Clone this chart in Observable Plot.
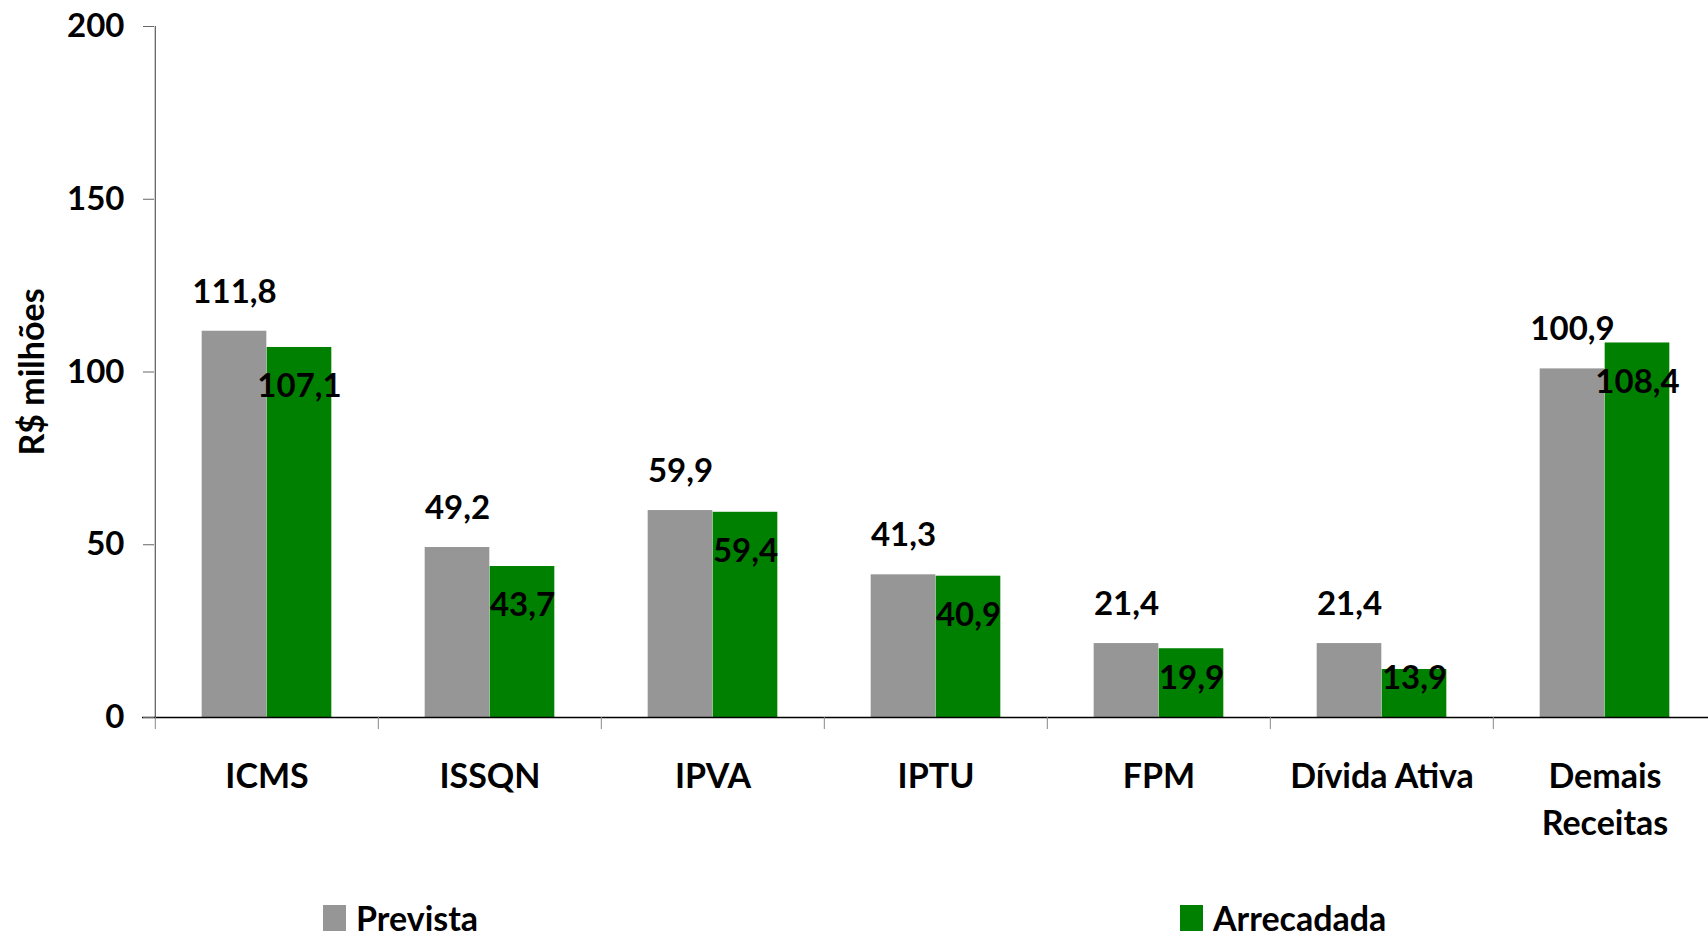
<!DOCTYPE html>
<html>
<head>
<meta charset="utf-8">
<script src="https://cdn.jsdelivr.net/npm/d3@7"></script>
<script src="https://cdn.jsdelivr.net/npm/@observablehq/plot@0.6"></script>
<style>
  html, body { margin: 0; padding: 0; background: #fff; overflow: hidden; }
  #wrap { position: relative; width: 1708px; height: 938px; font-family: Lato, "Open Sans", sans-serif; }
  #legend { position: absolute; left: 0; top: 895px; width: 1708px; height: 43px; }
  .item { position: absolute; top: 6px; display: flex; align-items: center; height: 34px; line-height: 34px; font-size: 34px; font-weight: bold; color: #000; }
  .sw { display: inline-block; width: 23px; height: 26px; margin-right: 10px; }
</style>
</head>
<body>
<div id="wrap">
  <div id="chart"></div>
  <div id="legend"></div>
</div>
<script>
// ---- data ----
const categories = ["ICMS", "ISSQN", "IPVA", "IPTU", "FPM", "Dívida Ativa", "Demais Receitas"];
const prevista   = [111.8, 49.2, 59.9, 41.3, 21.4, 21.4, 100.9];
const arrecadada = [107.1, 43.7, 59.4, 40.9, 19.9, 13.9, 108.4];
const seriesNames = ["Prevista", "Arrecadada"];
const seriesColors = ["#969696", "#008000"];
const yTicks = [0, 50, 100, 150, 200];

const table = categories.map((c, i) => ({cat: c, prev: prevista[i], arr: arrecadada[i]}));

// ---- layout ----
const W = 1708, H = 895;
const mL = 154, mR = -9.5, mT = 26, mB = 178;
const band = (W - mL - mR) / categories.length;
const barW = 65;
const outer = (band - 2 * barW) / 2;
const FS = 33;
const labelGap = 39;
const pxPerUnit = (H - mT - mB) / 200;
const fmt = v => v.toFixed(1).replace(".", ",");
// inside labels of short bars sit at a minimum height above the baseline
const isShort = d => d.arr * pxPerUnit < 2 * labelGap;

const chart = Plot.plot({
  width: W,
  height: H,
  marginLeft: mL,
  marginRight: mR,
  marginTop: mT,
  marginBottom: mB,
  style: {fontFamily: "Lato, 'Open Sans', sans-serif", background: "#fff", overflow: "visible"},
  x: {domain: categories, padding: 0},
  y: {domain: [0, 200]},
  marks: [
    Plot.barY(table, {x: "cat", y: "prev", fill: seriesColors[0], insetLeft: outer, insetRight: outer + barW}),
    Plot.barY(table, {x: "cat", y: "arr", fill: seriesColors[1], insetLeft: outer + barW, insetRight: outer}),
    // y axis line
    Plot.ruleX([categories[0]], {dx: -band / 2, y1: 0, y2: 200, stroke: "#666", strokeWidth: 1.3}),
    // x axis line
    Plot.ruleY([0], {stroke: "#000", strokeWidth: 1.5, insetLeft: -12}),
    Plot.axisY({ticks: yTicks, tickSize: 11, tickPadding: 19, stroke: "#666", fontSize: FS, fontWeight: "bold", fill: "#000", label: null, tickFormat: d => String(d)}),
    // x ticks at band boundaries
    Plot.axisX({tickSize: 12, text: null, dx: -band / 2, stroke: "#888", label: null}),
    // category labels
    Plot.axisX({tickSize: 0, tickPadding: 38, fontSize: 34, fontWeight: "bold", fill: "#000", label: null, lineHeight: 1.36,
      tickFormat: d => d === "Demais Receitas" ? "Demais\nReceitas" : d}),
    // y title
    Plot.text(["R$ milhões"], {frameAnchor: "left", textAnchor: "middle", dx: -121, rotate: -90, fontSize: 34, fontWeight: "bold", fill: "#000"}),
    // value labels
    Plot.text(table, {x: "cat", y: "prev", text: d => fmt(d.prev), dx: -(barW / 2), dy: -labelGap, fontSize: FS, fontWeight: "bold", fill: "#000"}),
    Plot.text(table.filter(d => !isShort(d)), {x: "cat", y: "arr", text: d => fmt(d.arr), dx: barW / 2, dy: labelGap, fontSize: FS, fontWeight: "bold", fill: "#000"}),
    Plot.text(table.filter(isShort), {x: "cat", y: () => 0, text: d => fmt(d.arr), dx: barW / 2, dy: -labelGap, fontSize: FS, fontWeight: "bold", fill: "#000"})
  ]
});
document.getElementById("chart").appendChild(chart);

// ---- legend ----
const legendLeft = [323, 1180];
const legend = document.getElementById("legend");
seriesNames.forEach((name, i) => {
  const item = document.createElement("div");
  item.className = "item";
  item.style.left = legendLeft[i] + "px";
  const sw = document.createElement("span");
  sw.className = "sw";
  sw.style.background = seriesColors[i];
  item.appendChild(sw);
  item.appendChild(document.createTextNode(name));
  legend.appendChild(item);
});
</script>
</body>
</html>
